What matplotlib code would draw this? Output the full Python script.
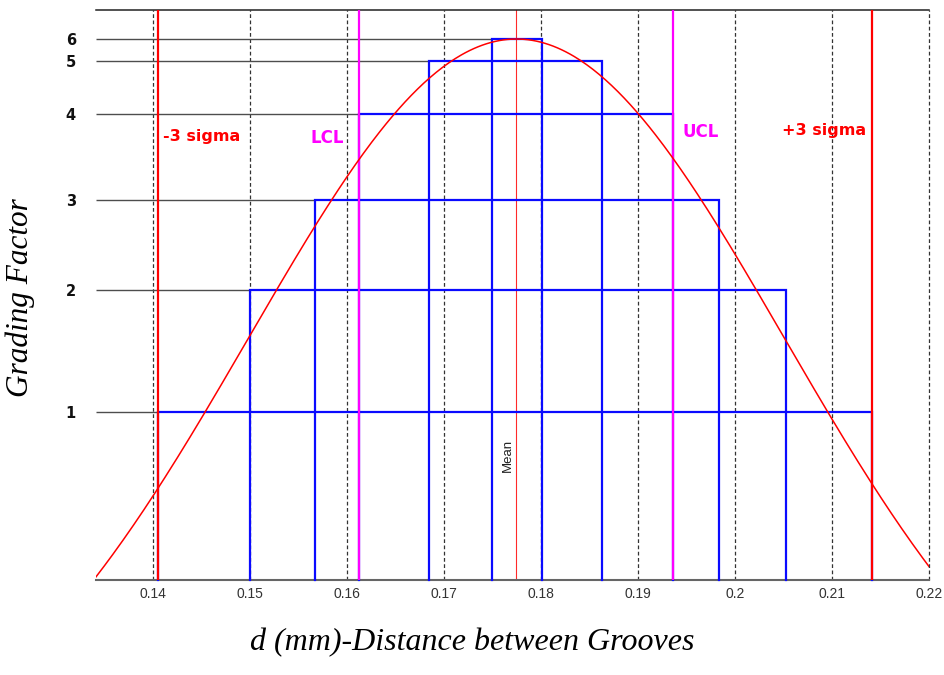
import numpy as np
import matplotlib
matplotlib.use("Agg")
import matplotlib.pyplot as plt

# ---------------- data ----------------
x_ticks = [0.14, 0.15, 0.16, 0.17, 0.18, 0.19, 0.20, 0.21, 0.22]
x_tick_labels = ["0.14", "0.15", "0.16", "0.17", "0.18", "0.19", "0.2", "0.21", "0.22"]

grade_labels = ["1", "2", "3", "4", "5", "6"]
# level heights, in units of the normal-curve peak height
grade_heights = [0.509, 0.670, 0.788, 0.901, 0.971, 1.000]
grade_left = [0.1406, 0.1500, 0.1567, 0.1613, 0.1685, 0.1750]
grade_right = [0.2142, 0.2053, 0.1984, 0.1936, 0.1863, 0.1801]

mean_d = 0.1775
minus3_sigma = 0.1406
plus3_sigma = 0.2142
lcl = 0.1613
ucl = 0.1936

curve_mean = 0.1775
curve_sigma = 0.0276

x_range = (0.13416, 0.22003)
y_range = (0.2873, 1.0389)

# ---------------- figure ----------------
fig = plt.figure(figsize=(9.45, 6.75), dpi=100)
W, H = 945, 675
ax = fig.add_axes([96 / W, (H - 580) / H, (929 - 96) / W, (580 - 9.5) / H])
ax.set_xlim(*x_range)
ax.set_ylim(*y_range)

for s in ["left", "right"]:
    ax.spines[s].set_visible(False)
ax.spines["top"].set_color("#222222")
ax.spines["top"].set_linewidth(1.1)
ax.spines["bottom"].set_color("#666666")
ax.spines["bottom"].set_linewidth(1.5)

# dashed vertical grid
for xv in x_ticks:
    ax.axvline(xv, color="#333333", lw=0.9, ls=(0, (3, 2)), zorder=1, clip_on=False)

# horizontal level lines from the axis to each rectangle
ax.hlines(grade_heights, x_range[0], grade_left, color="#4d4d4d", lw=1.0, zorder=2)

# blue grading rectangles
for h, l, r in zip(grade_heights, grade_left, grade_right):
    ax.plot([l, l, r, r], [y_range[0], h, h, y_range[0]], color="#0a0aff",
            lw=1.6, zorder=3, solid_joinstyle="miter", clip_on=False)

# mean line
ax.axvline(mean_d, color="#ff2a2a", lw=0.8, zorder=2.5)
# +/- 3 sigma
ax.axvline(minus3_sigma, color="#ff0000", lw=1.6, zorder=4)
ax.axvline(plus3_sigma, color="#ff0000", lw=1.6, zorder=4)
# control limits
ax.axvline(lcl, color="#ff00ff", lw=1.6, zorder=4)
ax.axvline(ucl, color="#ff00ff", lw=1.6, zorder=4)

# normal curve
xc = np.linspace(x_range[0], x_range[1], 400)
yc = np.exp(-0.5 * ((xc - curve_mean) / curve_sigma) ** 2)
ax.plot(xc, yc, color="#ff0000", lw=1.1, zorder=6)

# annotations
bold_kw = dict(family="DejaVu Sans", weight="bold", va="baseline", zorder=7)
ax.text(minus3_sigma + 0.0005, 0.866, "-3 sigma", color="#ff0000", fontsize=11.5, ha="left", **bold_kw)
ax.text(lcl - 0.0016, 0.8626, "LCL", color="#ff00ff", fontsize=12, ha="right", **bold_kw)
ax.text(ucl + 0.0010, 0.8713, "UCL", color="#ff00ff", fontsize=12, ha="left", **bold_kw)
ax.text(plus3_sigma - 0.0006, 0.8736, "+3 sigma", color="#ff0000", fontsize=11.5, ha="right", **bold_kw)
ax.text(mean_d - 0.00092, 0.452, "Mean", rotation=90, fontsize=9.5, family="Liberation Sans",
        ha="center", va="center", color="#222222", zorder=7)

# ticks
ax.set_xticks(x_ticks)
ax.set_xticklabels(x_tick_labels, family="Liberation Sans", fontsize=10, color="#333333")
ax.set_yticks(grade_heights)
ax.set_yticklabels(grade_labels, family="DejaVu Sans", weight="bold", fontsize=10.5, color="#111111")
ax.tick_params(axis="x", length=0, pad=5)
ax.tick_params(axis="y", length=0, pad=14.5)

# axis titles
fig.text(472.5 / W, (H - 650) / H, "d (mm)-Distance between Grooves", family="Liberation Serif",
         style="italic", fontsize=23, ha="center", va="baseline")
fig.text(20 / W, (H - 297.5) / H, "Grading Factor", family="Liberation Serif",
         style="italic", fontsize=22.5, ha="center", va="center", rotation=90)

fig.savefig("out.png", dpi=100)
